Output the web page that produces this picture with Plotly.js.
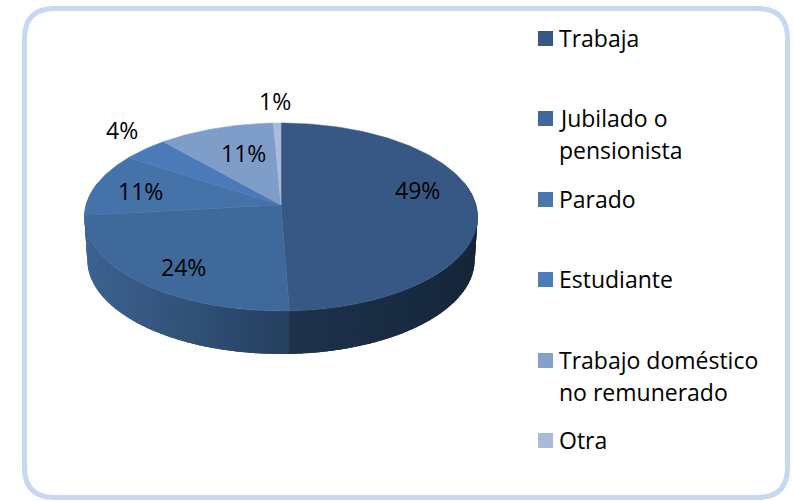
<!DOCTYPE html>
<html><head><meta charset="utf-8">
<script src="https://cdn.plot.ly/plotly-3.0.1.min.js"></script>
<style>html,body{margin:0;padding:0;background:#fff}#c{width:794px;height:501px}</style>
</head><body><div id="c"></div>
<script>
var categories = ["Trabaja","Jubilado o<br>pensionista","Parado","Estudiante","Trabajo doméstico<br>no remunerado","Otra"];
var values = [49.4,23.8,11.0,4.3,10.8,0.7];
var valueLabels = ["49%","24%","11%","4%","11%","1%"];
var colors = ["#375884","#3f689b","#4572a9","#4a7bb8","#7f9dc9","#aabbd8"];
var swatchColors = ["#375884","#3f689b","#4a76ae","#4a7ebb","#86a0cc","#a9bbd9"];
var sideLeft  = ["#1e324c","#3d6291","#3f6696","#40689a","#5c7aa6","#7d90b0"];
var sideRight = ["#15263a","#25405f","#3f6696","#40689a","#5c7aa6","#7d90b0"];
var labelX = [417,183,140,122,243,275];
var labelY = [190,267,191,130,153,101];
var legendY = [38.5,118.5,199.5,279.5,360.5,440.5];
var FONT = "'Open Sans', sans-serif", FS = 23;

var CX=281, CY=205, R=195, C=0.1277, A=-66.3, DEPTH=43;
function rim(t){var u=Math.sin(t),v=Math.cos(t),w=1+C*v;return [CX+R*u/w,(A*v+CY)/w];}
function low(t){var p=rim(t);return [CX+(p[0]-CX)*0.985,p[1]+DEPTH];}
function hex(c){return [1,3,5].map(function(i){return parseInt(c.substr(i,2),16);});}
function mix(a,b,f){var x=hex(a),y=hex(b);return "rgb("+x.map(function(v,i){return Math.round(v+(y[i]-v)*f);}).join(",")+")";}

var traces=[];
var total=values.reduce(function(a,b){return a+b;},0), acc=0, bounds=[];
values.forEach(function(v){bounds.push([acc/total*2*Math.PI,(acc+v)/total*2*Math.PI]);acc+=v;});

// side wall: strips per slice, each painted over the next one's start so no seams appear
var LIM0=Math.PI*0.42, LIM1=Math.PI*1.58;
bounds.forEach(function(b,i){
  var s=Math.max(b[0],LIM0), e=Math.min(b[1],LIM1);
  if(e<=s) return;
  var n=Math.ceil((e-s)/0.03);
  var step=(e-s)/n;
  var xa=rim(s)[0], xb=rim(e)[0];
  var xl=Math.min(xa,xb), xr=Math.max(xa,xb);
  if(i===0) xr=CX+R*1.008;
  if(i===1) xl=CX-R*1.008;
  for(var k=0;k<n;k++){
    var t0=s+step*k, t1=Math.min(s+step*(k+2.2),LIM1);
    var xs=[],ys=[],xb2=[],yb2=[];
    for(var j=0;j<=6;j++){
      var t=t0+(t1-t0)*j/6,p=rim(t),q=low(t);
      xs.push(p[0]);ys.push(p[1]);xb2.unshift(q[0]);yb2.unshift(q[1]);
    }
    var xm=rim(t0+step/2)[0];
    var g=(xm-xl)/Math.max(xr-xl,1);
    g=Math.max(0,Math.min(1,g));
    var col=mix(sideLeft[i],sideRight[i],g);
    traces.push({type:"scatter",mode:"lines",x:xs.concat(xb2,[xs[0]]),y:ys.concat(yb2,[ys[0]]),fill:"toself",fillcolor:col,line:{width:0},hoverinfo:"skip",showlegend:false});
  }
});

// top faces
bounds.forEach(function(b,i){
  var xs=[CX],ys=[CY],n=Math.max(4,Math.ceil((b[1]-b[0])/0.02));
  for(var k=0;k<=n;k++){var p=rim(b[0]+(b[1]-b[0])*k/n);xs.push(p[0]);ys.push(p[1]);}
  xs.push(CX);ys.push(CY);
  traces.push({type:"scatter",mode:"lines",x:xs,y:ys,fill:"toself",fillcolor:colors[i],line:{color:colors[i],width:0.5},name:categories[i].replace("<br>"," "),hoverinfo:"name",showlegend:false});
});

// legend swatches
traces.push({type:"scatter",mode:"markers",x:categories.map(function(){return 545.5;}),y:legendY,
  marker:{symbol:"square",size:15,color:swatchColors,line:{width:0}},hoverinfo:"skip",showlegend:false});

var ann=[];
valueLabels.forEach(function(t,i){
  ann.push({x:labelX[i],y:labelY[i],xref:"x",yref:"y",text:t,showarrow:false,xanchor:"center",yanchor:"middle",font:{family:FONT,size:FS,color:"#000"}});
});
categories.forEach(function(c,i){
  c.split("<br>").forEach(function(line,j){
    ann.push({x:557,y:legendY[i]-1+(j*32),xref:"x",yref:"y",text:line,showarrow:false,xanchor:"left",yanchor:"middle",font:{family:FONT,size:FS,color:"#000"}});
  });
});

var L=24.5,T=8.5,Rt=787.5,B=497.5,r=30;
var layout={width:794,height:501,margin:{l:0,r:0,t:0,b:0},paper_bgcolor:"#fff",plot_bgcolor:"#fff",showlegend:false,
  xaxis:{range:[0,794],visible:false,fixedrange:true},
  yaxis:{range:[501,0],visible:false,fixedrange:true},
  annotations:ann,
  shapes:[{type:"path",layer:"below",xref:"x",yref:"y",
    path:"M "+(L+r)+" "+T+" L "+(Rt-r)+" "+T+" Q "+Rt+" "+T+" "+Rt+" "+(T+r)+" L "+Rt+" "+(B-r)+" Q "+Rt+" "+B+" "+(Rt-r)+" "+B+" L "+(L+r)+" "+B+" Q "+L+" "+B+" "+L+" "+(B-r)+" L "+L+" "+(T+r)+" Q "+L+" "+T+" "+(L+r)+" "+T+" Z",
    line:{color:"#c6d9f1",width:5},fillcolor:"#fff"}]
};
Plotly.newPlot("c",traces,layout,{displayModeBar:false,staticPlot:true});
</script></body></html>
